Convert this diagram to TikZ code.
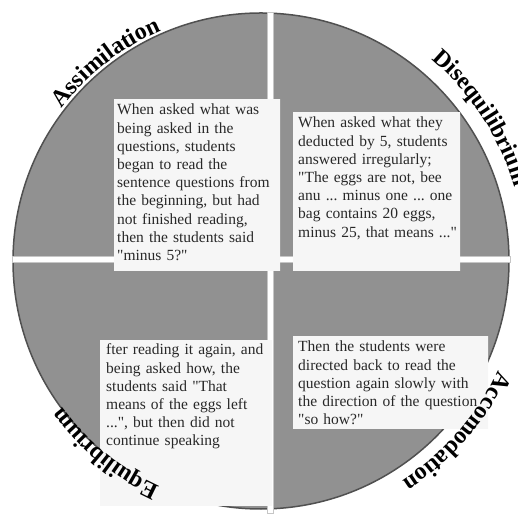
\documentclass[tikz,border=0pt]{standalone}
\usepackage{fontspec}
\setmainfont{Liberation Serif}
\newfontfamily\plainserif{Liberation Serif}[Ligatures=TeXOff]
\usepackage{tikz}
\usetikzlibrary{decorations.text}

\definecolor{discgray}{RGB}{145,145,145}
\definecolor{rimgray}{RGB}{80,80,80}
\definecolor{inkgray}{RGB}{40,40,40}

\newcommand{\boxfont}{\plainserif\frenchspacing\fontsize{15.5}{18.2}\selectfont}
\newcommand{\arcfont}{\bfseries\fontsize{24}{24}\selectfont}

\begin{document}
\begin{tikzpicture}[x = 1pt, y = 1pt,
    panel/.style = {left color = gray!7, middle color = white, right color = gray!7},
    boxtext/.style = {anchor = base west, inner sep = 0pt, text width = 200pt, align = left, text = inkgray, font = \boxfont},
    arclabel/.style = {decorate, decoration = {text along path, text align = center, text = {|\arcfont|#1}}}]
    	\begin{scope}
    	  \useasboundingbox (0,0) rectangle (518,513);
    	  \coordinate (O) at (261,252);
          \filldraw[fill = discgray, draw = rimgray, line width = 1.5pt] (O) circle (248pt);
          \filldraw[fill = white, draw = gray!45] (12,251) rectangle (510,257);
          \filldraw[fill = white, draw = gray!45] (267,0) rectangle (273,501);
          \shade[panel] (114,242) rectangle (280,413);
          \shade[panel] (293,242) rectangle (460,400);
          \shade[panel] (100,8) rectangle (272,172);
          \shade[panel] (293,84) rectangle (488,176);
    		\node[boxtext] at (117,398) (A) {When asked what was\\ being asked in the\\ questions, students\\ began to read the\\ sentence questions from\\ the beginning, but had\\ not finished reading,\\ then the students said\\ "minus 5?"};
    		\node[boxtext] at (298,385) (B) {When asked what they\\ deducted by 5, students\\ answered irregularly;\\ "The eggs are not, bee\\ anu ... minus one ... one\\ bag contains 20 eggs,\\ minus 25, that means ..."};
    		\node[boxtext] at (106,158) (C) {fter reading it again, and\\ being asked how, the\\ students said "That\\ means of the eggs left\\ ...", but then did not\\ continue speaking};
    		\node[boxtext] at (298,161) (D) {Then the students were\\ directed back to read the\\ question again slowly with\\ the direction of the question\\ "so how?"};
    		\path[arclabel = Assimilation] ([shift = {(148:251pt)}]O) arc[start angle = 148, end angle = 108, radius = 251pt];
    		\path[arclabel = Disequilibrium] ([shift = {(53:264pt)}]O) arc[start angle = 53, end angle = 13, radius = 264pt];
    		\path[arclabel = Accomodation] ([shift = {(-21:261pt)}]O) arc[start angle = -21, end angle = -61, radius = 261pt];
    		\path[arclabel = Equilibrium] ([shift = {(251:247pt)}]O) arc[start angle = 251, end angle = 211, radius = 247pt];
    	\end{scope}

	\end{tikzpicture}
\end{document}
